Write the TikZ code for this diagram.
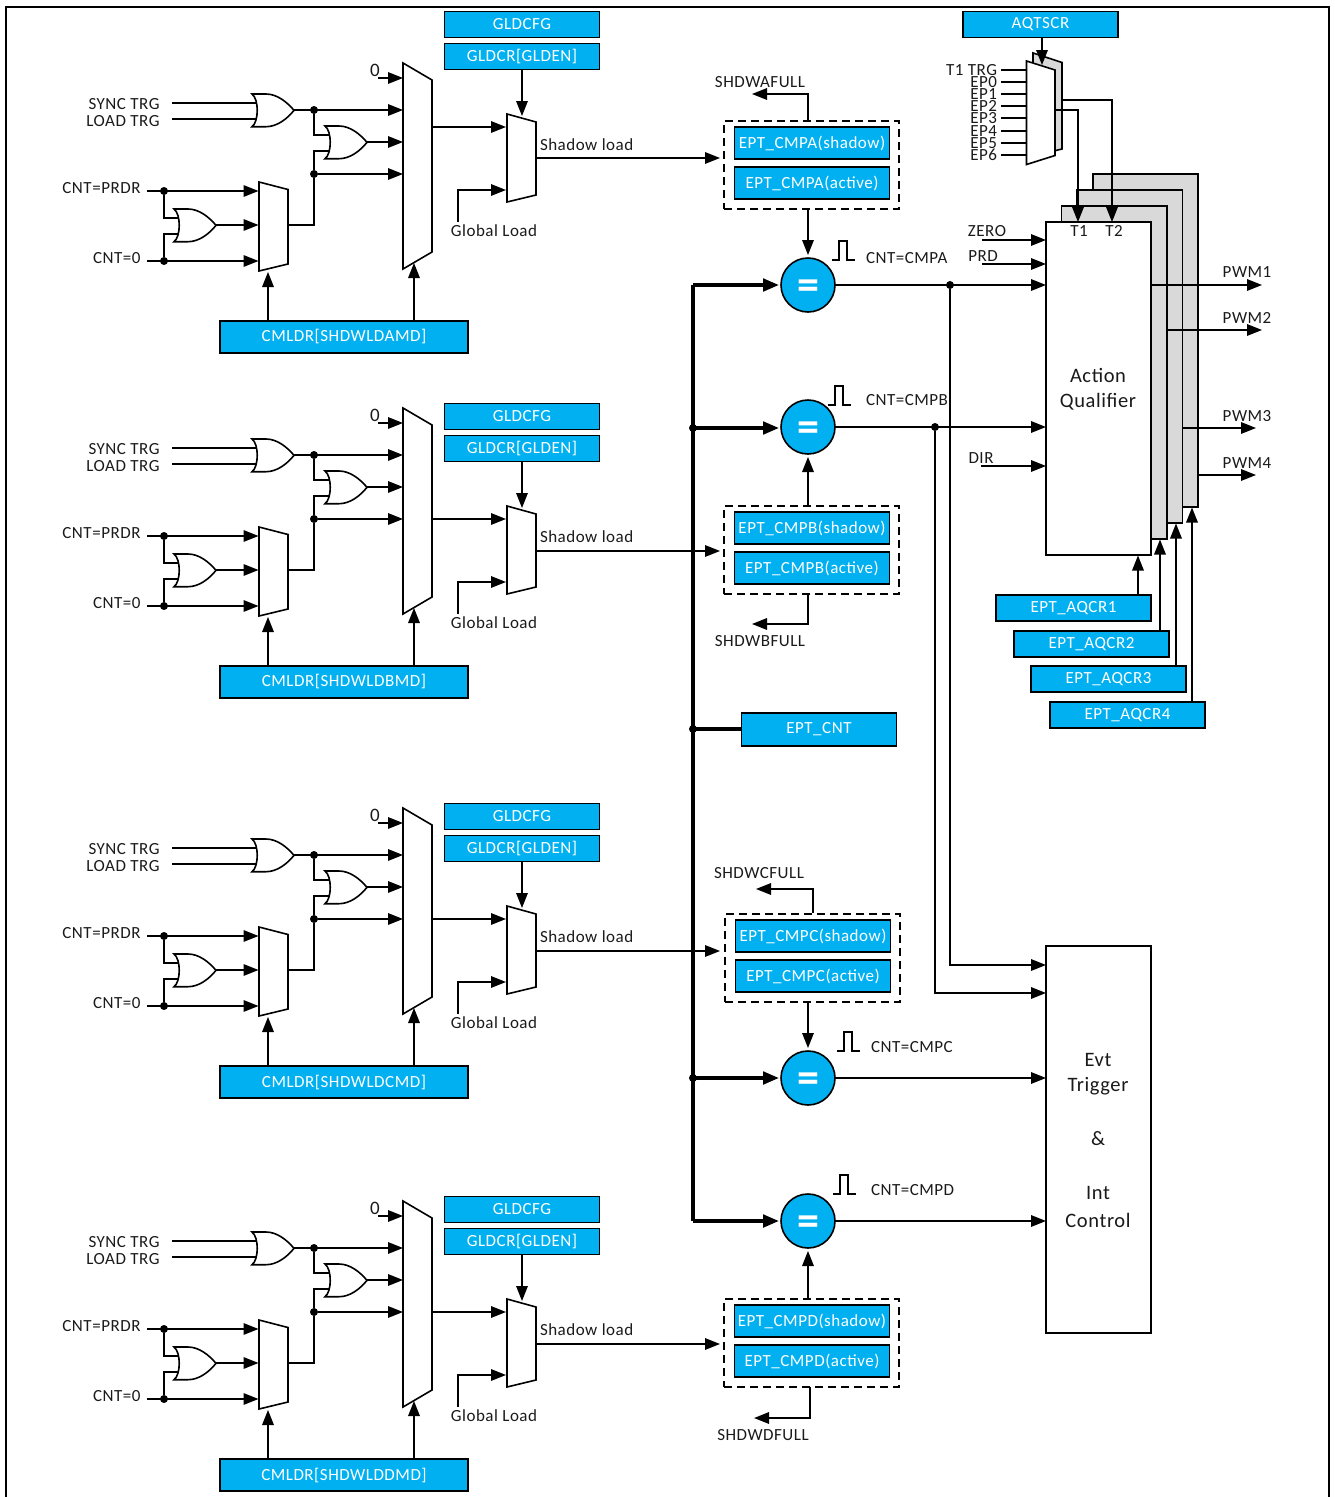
\documentclass[tikz,border=0pt]{standalone}
\usepackage{fontspec}
\setmainfont{Carlito}[LetterSpace=3]
\usetikzlibrary{arrows.meta,calc}
\definecolor{cblue}{HTML}{00B0F0}
\definecolor{cgray}{HTML}{D9D9D9}
\definecolor{cink}{HTML}{1A1A1A}
\tikzset{
  wire/.style={line width=1.6pt,draw=black},
  arr/.style={wire,-{Triangle[length=15pt,width=11.5pt]}},
  busline/.style={line width=3.5pt,draw=black},
  busarr/.style={busline,-{Triangle[length=16pt,width=12.5pt]},shorten >=2pt},
  gateshape/.style={line width=1.6pt,draw=black,fill=white},
  dotm/.style={circle,fill=black,minimum size=8pt,inner sep=0pt,outer sep=0pt},
  lbl/.style={inner sep=0pt,outer sep=0pt,text=cink,font=\fontsize{17}{18}\selectfont},
  biglbl/.style={lbl,font=\fontsize{20.5}{27}\selectfont},
  bluebox/.style={draw=black,line width=1.8pt,fill=cblue,text=white,inner sep=0pt,outer sep=0pt,
     minimum width=155pt,minimum height=26pt,font=\fontsize{17}{18}\selectfont},
  cmldr/.style={bluebox,minimum width=248pt,minimum height=32pt},
  regfill/.style={bluebox,minimum height=32pt},
  dashbox/.style={draw=black,line width=1.6pt,dash pattern=on 8pt off 5pt,minimum width=175pt,minimum height=88pt,inner sep=0pt,outer sep=0pt},
  cmpnode/.style={circle,draw=black,line width=1.6pt,fill=cblue,minimum size=54pt,inner sep=0pt,outer sep=0pt,text=white,font=\fontsize{44}{44}\bfseries\selectfont},
  block/.style={draw=black,line width=1.6pt,fill=white,inner sep=0pt,outer sep=0pt,align=center,text=cink,font=\fontsize{20.5}{27}\selectfont},
  graylay/.style={draw=black,line width=1.8pt,fill=cgray},
}
\newcommand{\eqsign}{\raisebox{-14.5pt}[0pt][0pt]{=}}
\newcommand{\orgate}[3]{%
  \draw[gateshape,shift={(#2,#3)}] (0,0) .. controls (7,5) and (7,27.7) .. (0,32.7) -- (14,32.7)
    .. controls (25,32.7) and (35,25) .. (42,16.35) .. controls (35,8) and (25,0) .. (14,0) -- cycle;
  \coordinate (#1a) at (#2+5,#3+9);
  \coordinate (#1b) at (#2+5,#3+25);
  \coordinate (#1o) at (#2+42,#3+16);
}
\newcommand{\leftpart}[3]{% prefix, offset, label
  \begin{scope}[shift={(0,#2)}]
    \draw[gateshape] (403,63) -- (432,80) -- (432,252) -- (403,269) -- cycle;
    \draw[gateshape] (259,182) -- (288,189.5) -- (288,264) -- (259,271) -- cycle;
    \orgate{#1ga}{252}{94}
    \orgate{#1gb}{325}{126}
    \orgate{#1gc}{174}{209}
    \node[lbl,anchor=east] (#1sync) at (159.5,104) {SYNC TRG};
    \node[lbl,anchor=east] (#1load) at (159.5,121) {LOAD TRG};
    \node[lbl,anchor=east] (#1prdr) at (140.5,188) {CNT=PRDR};
    \node[lbl,anchor=east] (#1zero) at (140.5,258) {CNT=0};
    \node[lbl,font=\fontsize{19}{20}\selectfont] (#1nil) at (375,70) {0};
    \coordinate (#1s1) at (172,103); \coordinate (#1s2) at (172,119);
    \coordinate (#1p0) at (147,191); \coordinate (#1z0) at (147,261);
    \coordinate (#1n0) at (378,78);
    \node[dotm] (#1d1) at (314,110) {};
    \node[dotm] (#1d2) at (314,174) {};
    \node[dotm] (#1d3) at (164,191) {};
    \node[dotm] (#1d4) at (164,261) {};
    \coordinate (#1m1) at (403,110); \coordinate (#1m2) at (403,142);
    \coordinate (#1m3) at (403,174); \coordinate (#1m0) at (403,78);
    \coordinate (#1q1) at (258.5,191); \coordinate (#1q2) at (258.5,225);
    \coordinate (#1q3) at (258.5,261); \coordinate (#1qo) at (288,225);
    \coordinate (#1cs) at (268,272); \coordinate (#1cb) at (414,263);
    \draw[wire] (#1s1) -- (#1gaa);
    \draw[wire] (#1s2) -- (#1gab);
    \draw[arr] (#1gao) -- (#1m1);
    \draw[arr] (#1gbo) -- (#1m2);
    \draw[arr] (#1d2) -- (#1m3);
    \draw[arr] (#1n0) -- (#1m0);
    \draw[wire] (#1d1) |- (#1gba);
    \draw[wire] (#1gbb) -| (#1d2);
    \draw[wire] (#1d2) |- (#1qo);
    \draw[arr] (#1p0) -- (#1q1);
    \draw[arr] (#1z0) -- (#1q3);
    \draw[arr] (#1gco) -- (#1q2);
    \draw[wire] (#1d3) |- (#1gca);
    \draw[wire] (#1d4) |- (#1gcb);
    \node[cmldr] (#1cm) at (344,337) {#3};
    \draw[arr] (#1cs |- #1cm.north) -- (#1cs);
    \draw[arr] (#1cb |- #1cm.north) -- (#1cb);
  \end{scope}
}
\newcommand{\rightpart}[3]{% prefix, offset, y of shadow wire
  \begin{scope}[shift={(0,#2)}]
    \node[bluebox] (#1cfg) at (522,24.5) {GLDCFG};
    \node[bluebox] (#1gen) at (522,56.5) {GLDCR[GLDEN]};
    \draw[gateshape] (507,114) -- (536,122) -- (536,195) -- (507,202) -- cycle;
    \coordinate (#1in) at (506,127);
    \coordinate (#1gl) at (506,190);
    \coordinate (#1gls) at (458,222);
    \coordinate (#1top) at (522,116);
    \coordinate (#1bo) at (432,127);
    \coordinate (#1so) at (536,#3);
    \coordinate (#1st) at (720,#3);
    \draw[arr] (#1gen.south -| #1top) -- (#1top);
    \draw[arr] (#1bo) -- (#1in);
    \draw[arr] (#1gls) |- (#1gl);
    \draw[arr] (#1so) -- (#1st);
    \node[lbl,anchor=west] (#1sl) at (540,145) {Shadow load};
    \node[lbl] (#1gll) at (494,231) {Global Load};
  \end{scope}
}
\newcommand{\regbox}[4]{% prefix, dy, dx, name
  \begin{scope}[shift={(#3,#2)}]
    \node[dashbox] (#1dash) at (811.5,165) {};
    \node[regfill] (#1sh) at (812,143) {EPT\_CMP#4(shadow)};
    \node[regfill] (#1ac) at (812,183) {EPT\_CMP#4(active)};
  \end{scope}
}
\newcommand{\pulse}[2]{% x,y of lower left
  \draw[wire,shift={(#1,#2)}] (0,0) -- (7,0) -- (7,-19) -- (15,-19) -- (15,0) -- (23,0);
}
\begin{document}
\begin{tikzpicture}[x=1pt,y=-1pt]
\useasboundingbox (0,0) rectangle (1334,1497);
% frame
\draw[line width=2.4pt,draw=black] (6,1497) -- (6,7) -- (1329,7) -- (1329,1497);
% left blocks
\leftpart{a}{0}{CMLDR[SHDWLDAMD]}
\leftpart{b}{345}{CMLDR[SHDWLDBMD]}
\leftpart{c}{745}{CMLDR[SHDWLDCMD]}
\leftpart{d}{1138}{CMLDR[SHDWLDDMD]}
\rightpart{ra}{0}{158}
\rightpart{rb}{392}{159}
\rightpart{rc}{792}{159}
\rightpart{rd}{1185}{159}
\regbox{a}{0}{0}{A}
\regbox{b}{385}{0}{B}
\regbox{c}{793}{1}{C}
\regbox{d}{1178}{0}{D}
% comparators
\node[cmpnode] (ca) at (808,285) {\eqsign};
\node[cmpnode] (cb) at (808,427) {\eqsign};
\node[cmpnode] (cc) at (808,1078) {\eqsign};
\node[cmpnode] (cd) at (808,1221) {\eqsign};
\pulse{832}{260}
\pulse{828}{405}
\pulse{837}{1051}
\pulse{833}{1194}
\node[lbl,anchor=west] (la) at (866,258) {CNT=CMPA};
\node[lbl,anchor=west] (lb) at (866,400) {CNT=CMPB};
\node[lbl,anchor=west] (lc) at (871,1047) {CNT=CMPC};
\node[lbl,anchor=west] (ld) at (871,1190) {CNT=CMPD};
% reg to comparator
\draw[arr,shorten >=3pt] (adash.south -| ca) -- (ca.north);
\draw[arr,shorten >=3pt] (bdash.north -| cb) -- (cb.south);
\draw[arr,shorten >=3pt] (cdash.south -| cc) -- (cc.north);
\draw[arr,shorten >=3pt] (ddash.north -| cd) -- (cd.south);
% full flags
\coordinate (fa1) at (808,121); \coordinate (fa2) at (752,94);
\coordinate (fb1) at (808,594); \coordinate (fb2) at (752,624);
\coordinate (fc1) at (813,913); \coordinate (fc2) at (756,889);
\coordinate (fd1) at (810,1387); \coordinate (fd2) at (754,1418);
\draw[arr] (fa1) |- (fa2);
\draw[arr] (fb1) |- (fb2);
\draw[arr] (fc1) |- (fc2);
\draw[arr] (fd1) |- (fd2);
\node[lbl] (sa) at (760,82) {SHDWAFULL};
\node[lbl] (sb) at (760,641) {SHDWBFULL};
\node[lbl] (sc) at (759,873) {SHDWCFULL};
\node[lbl] (sd) at (763,1435) {SHDWDFULL};
% bus
\node[bluebox,minimum height=33pt] (cnt) at (819,729.5) {EPT\_CNT};
\coordinate (bt) at (693,285); \coordinate (bbm) at (693,1221);
\coordinate (bb1) at (693,428); \coordinate (bb2) at (693,729); \coordinate (bb3) at (693,1078);
\draw[busline,line join=round] (bbm) -- (bt);
\draw[busarr] (bt) -- (ca.west);
\draw[busarr] (bb1) -- (bb1 -| cb.west);
\draw[busarr] (bb3) -- (cc.west);
\draw[busarr] (bbm) -- (cd.west);
\draw[busline] (bb2) -- (bb2 -| cnt.west);
\node[dotm] (bd1) at (bb1) {};
\node[dotm] (bd2) at (bb2) {};
\node[dotm] (bd3) at (bb3) {};
% AQ
\draw[graylay] (1093,174) rectangle (1198,507);
\draw[graylay] (1077,190) rectangle (1182.5,523);
\draw[graylay] (1061.5,206) rectangle (1167,539);
\node[block,minimum width=105pt,minimum height=333pt] (aq) at (1098.5,388.5) {};
\node[biglbl] (aqt1) at (1098,375.5) {Action};
\node[biglbl] (aqt2) at (1098,401.5) {Qualifier};
\node[block,minimum width=105pt,minimum height=387pt] (evt) at (1098.5,1139.5) {};
\node[biglbl] (et1) at (1098,1059.5) {Evt};
\node[biglbl] (et2) at (1098,1086.5) {Trigger};
\node[biglbl] (et3) at (1098,1139) {\&};
\node[biglbl] (et4) at (1098,1193) {Int};
\node[biglbl] (et5) at (1098,1220) {Control};
\node[lbl] (t1) at (1079,231) {T1};
\node[lbl] (t2) at (1114,231) {T2};
% outputs
\node[dotm] (da) at (950,285) {};
\node[dotm] (db) at (935,427) {};
\draw[arr] (ca.east) -- (ca -| aq.west);
\draw[arr] (cb.east) -- (cb -| aq.west);
\draw[arr] (cc.east) -- (cc -| evt.west);
\draw[arr] (cd.east) -- (cd -| evt.west);
\coordinate (ea) at (1046,965); \coordinate (eb) at (1046,993);
\draw[arr] (da) |- (ea);
\draw[arr] (db) |- (eb);
% AQ inputs
\coordinate (zs) at (982,240); \coordinate (ps) at (982,264); \coordinate (ds) at (981,466);
\draw[arr] (zs) -- (zs -| aq.west);
\draw[arr] (ps) -- (ps -| aq.west);
\draw[arr] (ds) -- (ds -| aq.west);
\node[lbl] (zl) at (987,231) {ZERO};
\node[lbl] (pl) at (983,256) {PRD};
\node[lbl] (dl) at (981,458) {DIR};
% AQ outputs
\coordinate (p1s) at (1151,285); \coordinate (p1e) at (1262,285);
\coordinate (p2s) at (1167,330); \coordinate (p2e) at (1262,330);
\coordinate (p3s) at (1183,428); \coordinate (p3e) at (1256,428);
\coordinate (p4s) at (1198,475); \coordinate (p4e) at (1256,475);
\draw[arr] (p1s) -- (p1e);
\draw[arr] (p2s) -- (p2e);
\draw[arr] (p3s) -- (p3e);
\draw[arr] (p4s) -- (p4e);
\node[lbl] (p1l) at (1247,272) {PWM1};
\node[lbl] (p2l) at (1247,318) {PWM2};
\node[lbl] (p3l) at (1247,416) {PWM3};
\node[lbl] (p4l) at (1247,463) {PWM4};
% AQCR
\node[bluebox] (q1) at (1073.5,608) {EPT\_AQCR1};
\node[bluebox] (q2) at (1091.5,644) {EPT\_AQCR2};
\node[bluebox] (q3) at (1108.5,679.3) {EPT\_AQCR3};
\node[bluebox] (q4) at (1127.5,715) {EPT\_AQCR4};
\coordinate (qt1) at (1138,555.5); \coordinate (qt2) at (1160,539.5);
\coordinate (qt3) at (1176,523.5); \coordinate (qt4) at (1192,507.5);
\draw[arr] (qt1 |- q1.north) -- (qt1);
\draw[arr] (qt2 |- q2.north) -- (qt2);
\draw[arr] (qt3 |- q3.north) -- (qt3);
\draw[arr] (qt4 |- q4.north) -- (qt4);
% trigger mux
\draw[gateshape,fill=cgray] (1033,53) -- (1062,62.5) -- (1062,149) -- (1033,156) -- cycle;
\draw[gateshape] (1026.5,61) -- (1055,70) -- (1055,155.5) -- (1026.5,164.5) -- cycle;
\node[bluebox] (aqt) at (1040.5,24.5) {AQTSCR};
\coordinate (mt) at (1042,65);
\draw[arr] (aqt.south -| mt) -- (mt);
\coordinate (o1) at (1055,110); \coordinate (i1) at (1078,222);
\coordinate (o2) at (1062,100); \coordinate (i2) at (1112,222);
\draw[arr] (o1) -| (i1);
\draw[arr] (o2) -| (i2);
\foreach \nm/\yy/\lab in {n1/70/T1 TRG,n2/82/EP0,n3/94/EP1,n4/106/EP2,n5/118/EP3,n6/131/EP4,n7/143/EP5,n8/155/EP6}{
  \coordinate (\nm s) at (1001,\yy);
  \coordinate (\nm e) at (1026.5,\yy);
  \draw[wire] (\nm s) -- (\nm e);
  \node[lbl,anchor=east] (\nm l) at (997,\yy) {\lab};
}
\end{tikzpicture}
\end{document}
